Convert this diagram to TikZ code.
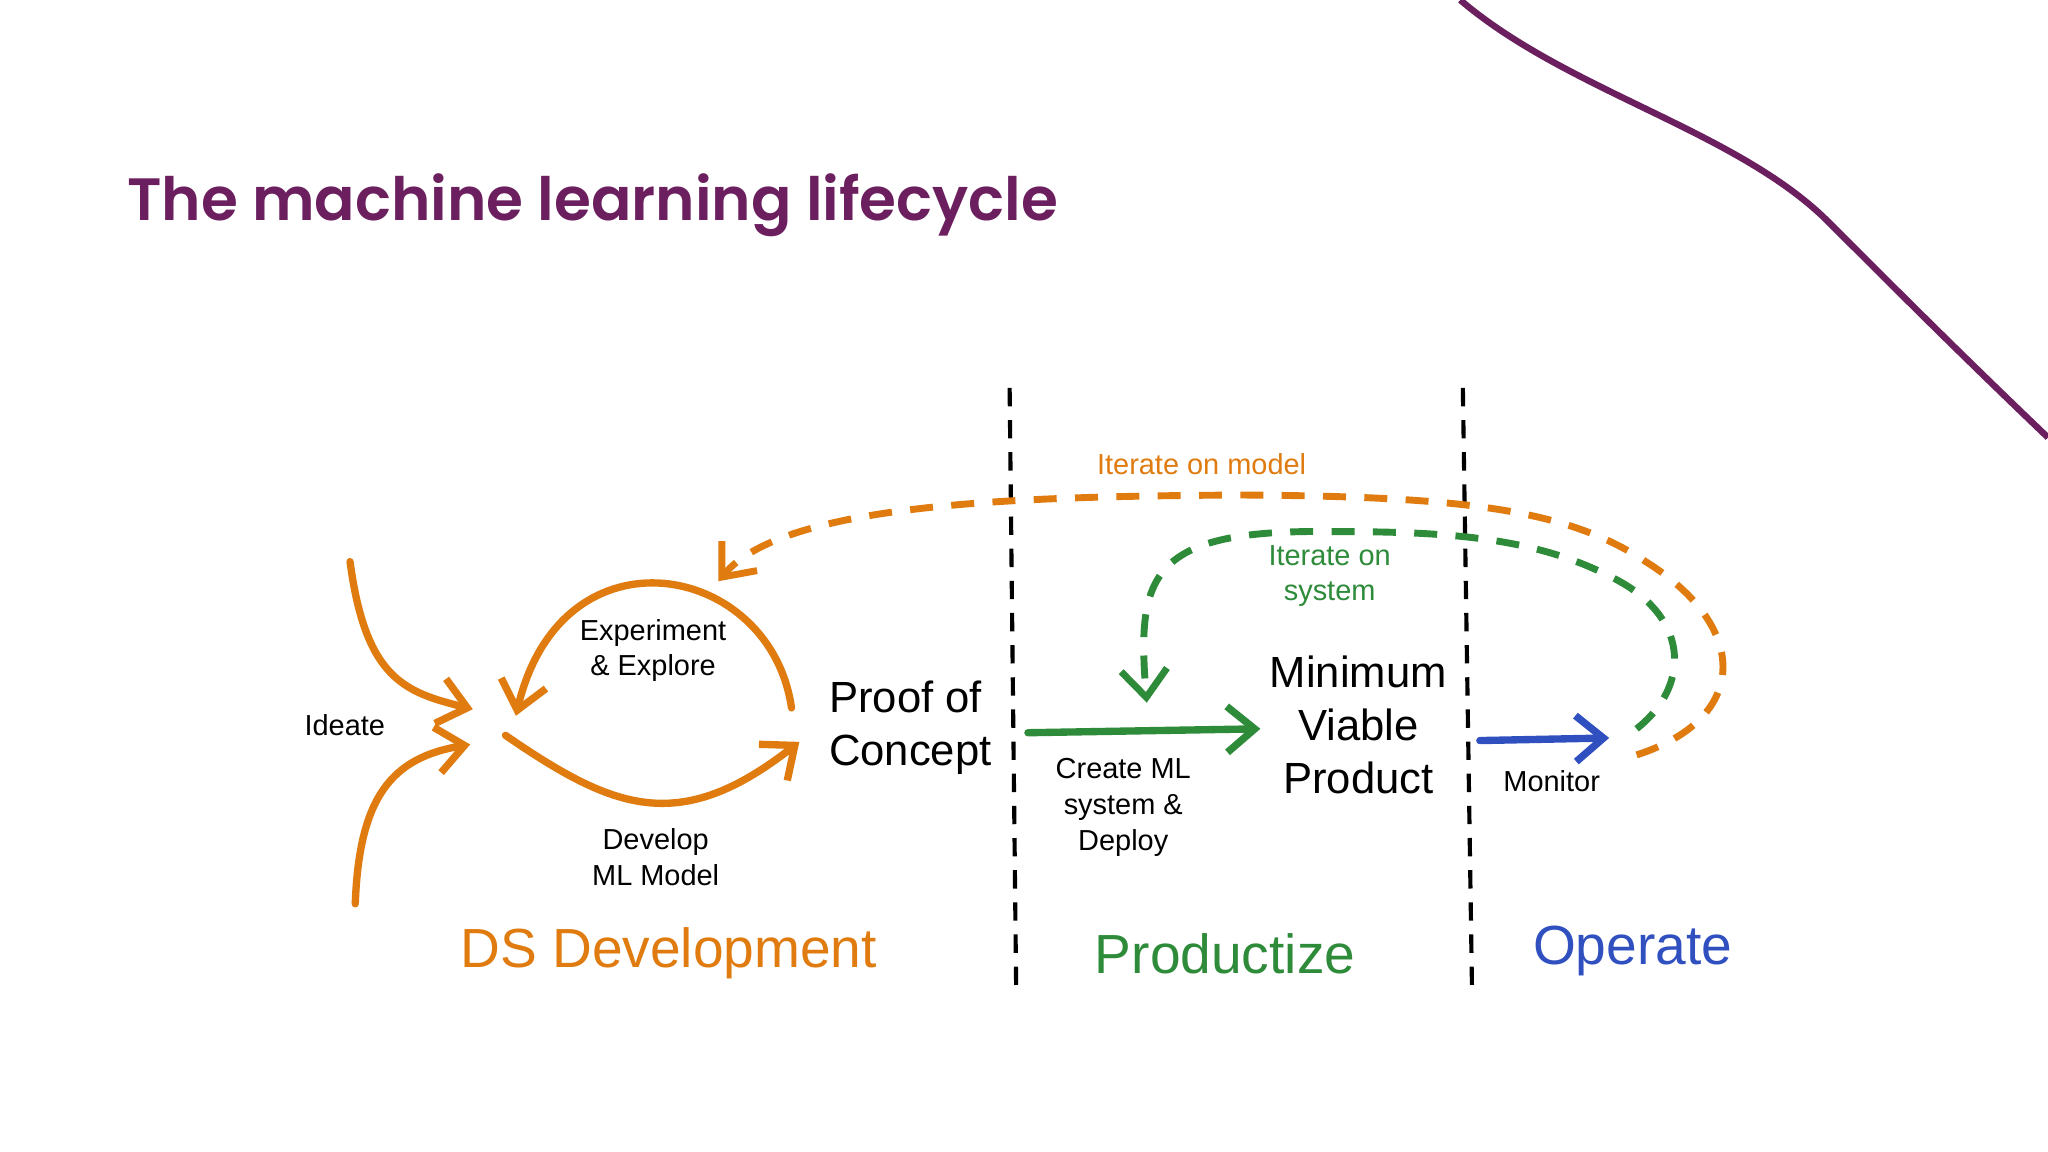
\documentclass[tikz,border=0pt]{standalone}
\usepackage{fontspec}
\setmainfont{Liberation Sans}
\newfontfamily\titlefont{Poppins SemiBold}
\usetikzlibrary{arrows.meta}
\definecolor{ttl}{HTML}{6B1F5F}
\definecolor{org}{HTML}{E07B10}
\definecolor{grn}{HTML}{2E8B3A}
\definecolor{blu}{HTML}{3050C0}
\tikzset{
  harrow/.style={line width=1.6pt, -{Straight Barb[length=6pt,width=10pt]}, line cap=round},
  dasharrow/.style={line width=1.5pt, dash pattern=on 5pt off 4pt, -{Straight Barb[length=6pt,width=10pt]}},
  sep/.style={line width=0.9pt, dash pattern=on 4pt off 3pt},
  lbl/.style={font=\fontsize{6.3}{7.8}\selectfont, align=center},
  big/.style={font=\fontsize{9.5}{11.5}\selectfont, align=left},
  phase/.style={font=\fontsize{12}{14}\selectfont}
}
\begin{document}
\begin{tikzpicture}[x=0.01cm,y=-0.01cm]
\useasboundingbox (0,0) rectangle (1568,882);
\fill[white] (0,0) rectangle (1568,882);
% decorative curve
\draw[ttl, line width=1.4pt] (1118,0) .. controls (1200,70) and (1330,100) .. (1400,170) .. controls (1450,220) and (1500,270) .. (1568,335);
\node[anchor=west, text=ttl, font=\titlefont\fontsize{13}{16}\selectfont] (title) at (85,157) {The machine learning lifecycle};
% separators
\coordinate (s1a) at (773,297); \coordinate (s1b) at (778,757);
\coordinate (s2a) at (1120,297); \coordinate (s2b) at (1127,757);
\draw[sep] (s1a) -- (s1b);
\draw[sep] (s2a) -- (s2b);
% nodes
\node[lbl] (ideate) at (264,555) {Ideate};
\node[lbl] (exp) at (500,498) {Experiment\\\& Explore};
\node[lbl] (dev) at (502,656) {Develop\\ML Model};
\node[big] (poc) at (697,557) {Proof of\\Concept};
\node[lbl] (create) at (860,618) {Create ML\\system \&\\Deploy};
\node[big, align=center] (mvp) at (1040,555) {Minimum\\Viable\\Product};
\node[lbl] (mon) at (1188,598) {Monitor};
\node[lbl, text=org] (itm) at (920,355) {Iterate on model};
\node[lbl, text=grn] (its) at (1018,441) {Iterate on\\system};
\node[phase, text=org] (dsd) at (512,730) {DS Development};
\node[phase, text=grn] (prod) at (938,730) {Productize};
\node[phase, text=blu] (op) at (1250,728) {Operate};
% coordinates
\coordinate (i1s) at (268,430); \coordinate (i1e) at (362,543);
\coordinate (i2s) at (272,692); \coordinate (i2e) at (360,570);
\coordinate (es) at (606,542); \coordinate (ee) at (395,548);
\coordinate (ds) at (387,563); \coordinate (de) at (612,568);
\coordinate (gs) at (787,561); \coordinate (ge) at (965,558);
\coordinate (bs) at (1133,567); \coordinate (be) at (1232,565);
\coordinate (os) at (1253,578); \coordinate (oe) at (550,445);
\coordinate (gds) at (1253,558); \coordinate (gde) at (878,538);
\draw[harrow, org] (i1s) .. controls (280,520) and (310,530) .. (i1e);
\draw[harrow, org] (i2s) .. controls (275,610) and (300,580) .. (i2e);
\draw[harrow, org] (es) .. controls (590,430) and (430,400) .. (ee);
\draw[harrow, org] (ds) .. controls (470,620) and (520,640) .. (de);
\draw[harrow, grn] (gs) -- (ge);
\draw[harrow, blu] (bs) -- (be);
\draw[dasharrow, org] (os) .. controls (1340,550) and (1340,480) .. (1260,430)
  .. controls (1200,390) and (1120,380) .. (950,379)
  .. controls (780,380) and (600,385) .. (oe);
\draw[dasharrow, grn] (gds) .. controls (1295,525) and (1295,470) .. (1230,440)
  .. controls (1170,410) and (1100,407) .. (1020,407)
  .. controls (880,405) and (870,440) .. (gde);
\end{tikzpicture}
\end{document}
